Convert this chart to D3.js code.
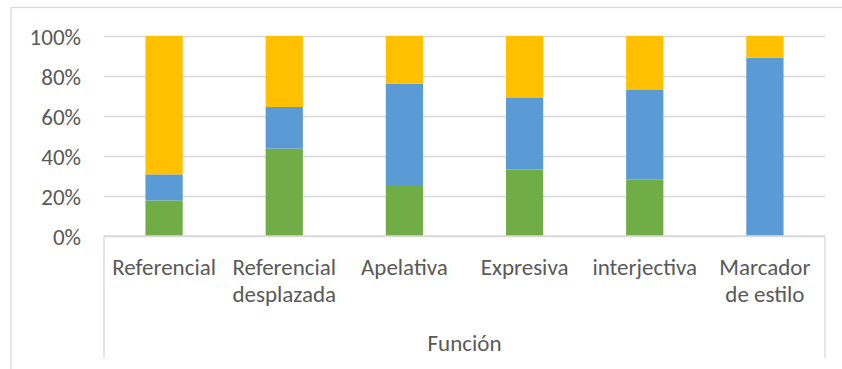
<!DOCTYPE html>
<html>
<head>
<meta charset="utf-8">
<script src="https://cdn.jsdelivr.net/npm/d3@7"></script>
<style>
  html, body { margin: 0; padding: 0; background: #fff; }
  svg { display: block; }
  text { font-family: Carlito, Calibri, Lato, "Open Sans", sans-serif; fill: #595959; }
</style>
</head>
<body>
<svg id="chart" width="842" height="369"></svg>
<script>
// Categories (multi-line labels split on "\n")
const categories = ["Referencial", "Referencial\ndesplazada", "Apelativa", "Expresiva", "interjectiva", "Marcador\nde estilo"];
// Shares per category, in percent (bottom to top)
const greenValues  = [17.8, 43.7, 25.5, 33.3, 28.2, 0];
const blueValues   = [13.0, 20.8, 50.7, 35.7, 44.8, 89.2];
const yellowValues = [69.2, 35.5, 23.8, 31.0, 27.0, 10.8];
const yTicks = [0, 20, 40, 60, 80, 100];
const axisTitle = "Función";

const seriesKeys = ["green", "blue", "yellow"];
const colors = { green: "#70AD47", blue: "#5B9BD5", yellow: "#FFC000" };

const rows = categories.map((c, i) => ({
  cat: c,
  green: greenValues[i],
  blue: blueValues[i],
  yellow: yellowValues[i]
}));

const svg = d3.select("#chart");
const W = 842, H = 369;
const m = { left: 104, right: 17, top: 36, bottom: 133 };
const plotW = W - m.left - m.right;
const plotH = H - m.top - m.bottom;
const fontSize = 23;

// Chart frame
svg.append("rect")
  .attr("x", 11).attr("y", 7.5)
  .attr("width", W + 10).attr("height", H + 10)
  .attr("fill", "none").attr("stroke", "#d9d9d9").attr("stroke-width", 1.3);

const g = svg.append("g").attr("transform", `translate(${m.left},${m.top})`);

const x = d3.scaleBand().domain(categories).range([0, plotW]).paddingInner(0.69).paddingOuter(0.345);
const y = d3.scaleLinear().domain([0, 100]).range([plotH, 0]);

// Gridlines + y labels
const yAxis = d3.axisLeft(y).tickValues(yTicks).tickSize(-plotW).tickFormat(d => d + "%");
const ya = g.append("g").call(yAxis);
ya.select(".domain").remove();
ya.selectAll(".tick line").attr("stroke", "#d9d9d9").attr("stroke-width", 1.3);
ya.selectAll(".tick text")
  .attr("x", -23).attr("dy", "0.36em")
  .attr("font-size", fontSize).attr("fill", "#595959")
  .style("font-family", "Carlito, Calibri, Lato, sans-serif");

// Stacked bars
const stack = d3.stack().keys(seriesKeys)(rows);
g.selectAll("g.series").data(stack).join("g")
  .attr("class", "series")
  .attr("fill", d => colors[d.key])
  .selectAll("rect").data(d => d).join("rect")
  .attr("x", d => x(d.data.cat))
  .attr("width", x.bandwidth())
  .attr("y", d => y(d[1]))
  .attr("height", d => y(d[0]) - y(d[1]));

// Category axis with group bracket
const axisG = g.append("g").attr("transform", `translate(0,${plotH})`);
axisG.append("line").attr("x1", 0).attr("x2", plotW).attr("y1", 0).attr("y2", 0)
  .attr("stroke", "#d9d9d9").attr("stroke-width", 1.3);
[0, plotW].forEach(px => {
  axisG.append("line").attr("x1", px).attr("x2", px).attr("y1", 0).attr("y2", 122)
    .attr("stroke", "#d9d9d9").attr("stroke-width", 1.3);
});

categories.forEach(c => {
  const lines = c.split("\n");
  const t = axisG.append("text")
    .attr("text-anchor", "middle")
    .attr("font-size", fontSize)
    .attr("transform", `translate(${x(c) + x.bandwidth() / 2},39)`);
  lines.forEach((ln, i) => {
    t.append("tspan").attr("x", 0).attr("dy", i === 0 ? 0 : 27).text(ln);
  });
});

axisG.append("text")
  .attr("text-anchor", "middle")
  .attr("font-size", fontSize)
  .attr("x", plotW / 2).attr("y", 115)
  .text(axisTitle);
</script>
</body>
</html>
